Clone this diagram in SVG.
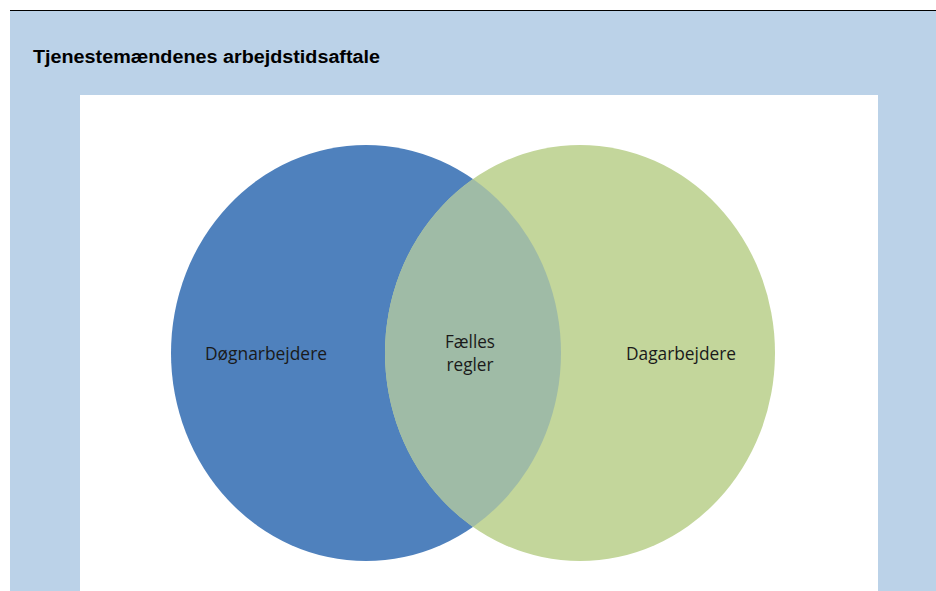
<svg xmlns="http://www.w3.org/2000/svg" width="936" height="591" viewBox="0 0 936 591">
<defs>
<style>
.lbl{font-family:"Open Sans","Noto Sans","Liberation Sans",sans-serif;font-size:18px;fill:#1a1a1a;text-anchor:middle}
.title{font-family:"Liberation Sans",Arial,sans-serif;font-size:18px;font-weight:bold;fill:#000}
</style>
<clipPath id="blueClip"><ellipse cx="366" cy="353" rx="195" ry="208"/></clipPath>
</defs>
<rect x="0" y="0" width="936" height="591" fill="#ffffff"/>
<rect x="10" y="11" width="926" height="580" fill="#BBD2E8"/>
<line x1="10" y1="10.5" x2="936" y2="10.5" stroke="#000" stroke-width="1.2"/>
<rect x="80" y="95" width="798" height="496" fill="#ffffff"/>
<text class="title" x="33" y="63" textLength="347" lengthAdjust="spacingAndGlyphs">Tjenestemændenes arbejdstidsaftale</text>
<g id="dognarbejdere">
<ellipse cx="366" cy="353" rx="195" ry="208" fill="#4F81BD"/>
</g>
<g id="dagarbejdere">
<ellipse cx="580" cy="353" rx="195" ry="208" fill="#C3D69B"/>
</g>
<g id="faelles">
<ellipse cx="580" cy="353" rx="195" ry="208" fill="#9FBBA6" clip-path="url(#blueClip)"/>
</g>
<g id="connectors"></g>
<g id="labels">
<text class="lbl" x="266" y="360" textLength="122" lengthAdjust="spacingAndGlyphs">Døgnarbejdere</text>
<text class="lbl" x="681" y="360" textLength="110" lengthAdjust="spacingAndGlyphs">Dagarbejdere</text>
<text class="lbl" x="470" y="348" textLength="50" lengthAdjust="spacingAndGlyphs">Fælles</text>
<text class="lbl" x="470" y="371" textLength="47" lengthAdjust="spacingAndGlyphs">regler</text>
</g>
</svg>
